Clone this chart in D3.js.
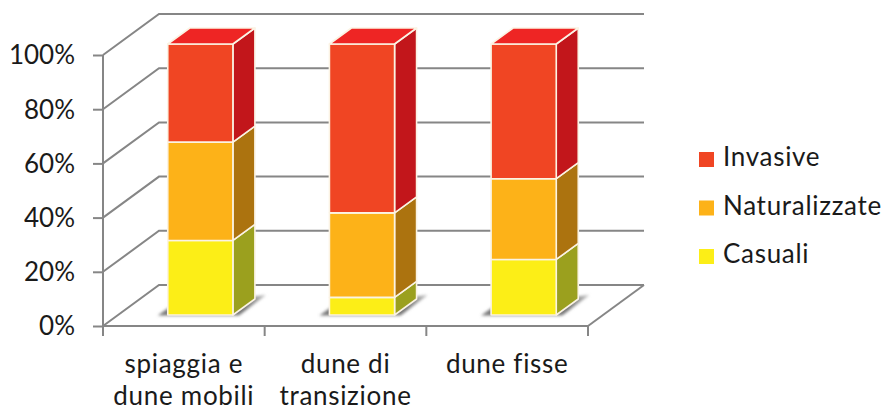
<!DOCTYPE html>
<html>
<head>
<meta charset="utf-8">
<script src="https://cdn.jsdelivr.net/npm/d3@7/dist/d3.min.js"></script>
<style>
html,body{margin:0;padding:0;background:#fff}
svg{display:block}
text{font-family:Lato,"Open Sans",sans-serif;fill:#1a1a1a}
</style>
</head>
<body>
<svg id="chart" width="881" height="410"></svg>
<script>
// Share of alien plant species by status in each dune habitat (percent)
const categories = [["spiaggia e","dune mobili"],["dune di","transizione"],["dune fisse"]];
const casuali = [27.5, 6.5, 20.5];
const naturalizzate = [36.3, 31.2, 29.8];
const invasive = [36.2, 62.3, 49.7];
const yTicks = [0, 20, 40, 60, 80, 100];
const legendNames = ["Invasive", "Naturalizzate", "Casuali"];

const frontColors = {Casuali:"#FCEE17", Naturalizzate:"#FDB218", Invasive:"#F04523"};
const sideColors  = {Casuali:"#9BA01E", Naturalizzate:"#AC730F", Invasive:"#C2161B"};
const topColor = "#EE2524";
const axisColor = "#868686";

const series = [
  {name:"Casuali", values:casuali},
  {name:"Naturalizzate", values:naturalizzate},
  {name:"Invasive", values:invasive}
];

const svg = d3.select("#chart");
const labelKey = c => c.join(" ");
const x = d3.scaleBand().domain(categories.map(labelKey)).range([103,588]).paddingInner(0.597).paddingOuter(0.2985);
const y = d3.scaleLinear().domain([0,100]).range([326,55]);

// Oblique projection: wall depth, bar inset from the front edge, bar depth
const wall = {dx:56, dy:-41};
const inset = {dx:16.5, dy:-11};
const depth = {dx:22, dy:-16};

const defs = svg.append("defs");
const shade = defs.append("linearGradient").attr("id","shade").attr("x1","0").attr("x2","1").attr("y1","0").attr("y2","0");
shade.append("stop").attr("offset","0").attr("stop-color","#777");
shade.append("stop").attr("offset","0.8").attr("stop-color","#777");
shade.append("stop").attr("offset","1").attr("stop-color","#bbb");
defs.append("filter").attr("id","soft").attr("x","-20%").attr("y","-40%").attr("width","140%").attr("height","180%")
  .append("feGaussianBlur").attr("stdDeviation",1.8);

// Wall and floor gridlines
const grid = svg.append("g").attr("fill","none").attr("stroke",axisColor).attr("stroke-width",2);
grid.selectAll("path").data(yTicks).join("path")
  .attr("d", t => d3.line()([[103,y(t)],[103+wall.dx,y(t)+wall.dy],[588+wall.dx,y(t)+wall.dy]]));
grid.append("path").attr("d", d3.line()([[588,y(0)],[588+wall.dx,y(0)+wall.dy]]));

// Value axis
const yAxis = svg.append("g").attr("transform","translate(103,0)")
  .call(d3.axisLeft(y).tickValues(yTicks).tickFormat(d => d+"%").tickSize(10).tickSizeOuter(0));
yAxis.selectAll("path,line").attr("stroke",axisColor).attr("stroke-width",2);
yAxis.select(".domain").attr("d", d3.line()([[0,y(0)],[0,y(100)]]));
yAxis.selectAll("text").attr("x",-28).attr("dy","0.34em").style("font-size","26px").attr("fill","#1a1a1a");

// Category axis
const xAxis = svg.append("g").attr("transform",`translate(0,${y(0)})`);
xAxis.append("path").attr("d", d3.line()([[103,0],[588,0]])).attr("stroke",axisColor).attr("stroke-width",2);
const step = x.step();
xAxis.selectAll("line").data(d3.range(categories.length+1)).join("line")
  .attr("x1", i => 103+i*step).attr("x2", i => 103+i*step).attr("y1",0).attr("y2",10)
  .attr("stroke",axisColor).attr("stroke-width",2);

const xLabels = svg.append("g").attr("text-anchor","middle").style("font-size","26px").style("letter-spacing","0.7px");
xLabels.selectAll("text").data(categories).join("text")
  .attr("transform", c => `translate(${x(labelKey(c))+x.bandwidth()/2},0)`)
  .selectAll("tspan").data(c => c).join("tspan")
  .attr("x",0).attr("y",(d,i)=>372.5+i*32.5).text(d=>d);

// Floor shadows and stacked bars
const bars = svg.append("g");
categories.forEach((c,i) => {
  const x0 = x(labelKey(c)) + inset.dx;
  const x1 = x0 + x.bandwidth();
  const base = y(0) + inset.dy;
  const yAt = v => y(v) + inset.dy;

  bars.append("path").attr("filter","url(#soft)").attr("fill","url(#shade)")
    .attr("d", d3.line()([[x0-10,base+0.5],[x0+2,base-8],[x1+depth.dx+11,base+depth.dy-4],[x1+6,base+0.5]]));

  let acc = 0;
  series.forEach(s => {
    const lo = acc, hi = acc + s.values[i];
    acc = hi;
    const g = bars.append("g").attr("stroke","#FBF3E4").attr("stroke-width",1.6).attr("stroke-linejoin","round");
    g.append("path").attr("fill",sideColors[s.name])
      .attr("d", d3.line()([[x1,yAt(lo)],[x1+depth.dx,yAt(lo)+depth.dy],[x1+depth.dx,yAt(hi)+depth.dy],[x1,yAt(hi)]])+"Z");
    g.append("rect").attr("x",x0).attr("width",x.bandwidth())
      .attr("y",yAt(hi)).attr("height",yAt(lo)-yAt(hi)).attr("fill",frontColors[s.name]);
    if (s.name === "Invasive") {
      g.append("path").attr("fill",topColor)
        .attr("d", d3.line()([[x0,yAt(hi)],[x1,yAt(hi)],[x1+depth.dx,yAt(hi)+depth.dy],[x0+depth.dx,yAt(hi)+depth.dy]])+"Z");
    }
  });
});

// Legend
const legendY = d3.scalePoint().domain(legendNames).range([166,263]);
const legend = svg.append("g");
legend.selectAll("rect").data(legendNames).join("rect")
  .attr("x",699).attr("y",d=>legendY(d)-14).attr("width",15).attr("height",15)
  .attr("fill",d=>frontColors[d]);
legend.selectAll("text").data(legendNames).join("text")
  .attr("x",723).attr("y",d=>legendY(d)).style("font-size","26px").style("letter-spacing","0.7px").text(d=>d);
</script>
</body>
</html>
